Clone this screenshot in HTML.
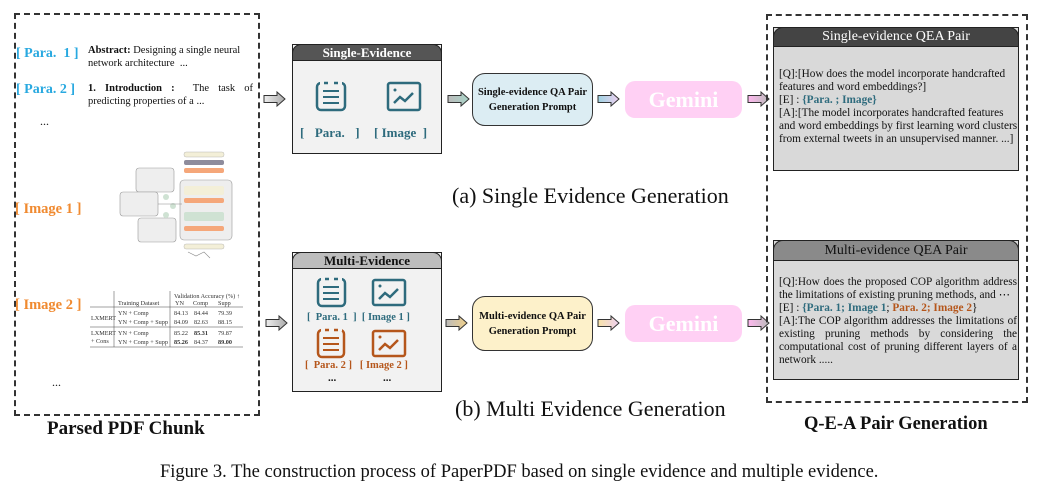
<!DOCTYPE html>
<html><head><meta charset="utf-8"><style>
*{margin:0;padding:0;box-sizing:border-box}
body{width:1041px;height:491px;background:#fff;position:relative;overflow:hidden;font-family:"Liberation Serif",serif;color:#111}
.a{position:absolute}
.dash{border:2px dashed #333}
.bl{color:#29a9e0;font-weight:bold}
.or{color:#f08a30;font-weight:bold}
.tl{color:#2e6b7d;font-weight:bold}
.br{color:#b5561b;font-weight:bold}
.hdr{position:absolute;left:-1px;right:-1px;top:-1px;border:1.5px solid #222;border-radius:9px 9px 0 0;text-align:center;font-weight:bold}
.box{border:1.5px solid #222;background:#f2f2f2}
.prompt{border:1.5px solid #333;border-radius:13px;font-weight:bold;font-size:10.5px;text-align:center;line-height:15px;display:flex;align-items:center;justify-content:center}
.gem{background:#ffd0f4;border-radius:10px;color:#fff;font-weight:bold;font-size:22px;text-align:center}
.qea{border:1.5px solid #222;background:#d9d9d9;font-size:11.3px;line-height:13px}
.qea p{margin:0}
</style></head><body>

<div class="a dash" style="left:14px;top:13px;width:246px;height:403px"></div>
<div class="a bl" style="left:16px;top:46px;font-size:14px">[ Para.&nbsp; 1 ]</div>
<div class="a" style="left:88px;top:44px;width:165px;font-size:10.5px;line-height:13px"><b>Abstract:</b> Designing a single neural network architecture&nbsp; ...</div>
<div class="a bl" style="left:16px;top:82px;font-size:14px">[ Para. 2 ]</div>
<div class="a" style="left:88px;top:82px;width:165px;font-size:10.5px;line-height:13px;text-align:justify"><b>1. Introduction :</b>&nbsp; The task of predicting properties of a ...</div>
<div class="a" style="left:40px;top:114px;font-size:12px">...</div>
<div class="a or" style="left:15px;top:201px;font-size:14.5px">[ Image 1 ]</div>
<div class="a or" style="left:15px;top:297px;font-size:14.5px">[ Image 2 ]</div>
<div class="a" style="left:52px;top:375px;font-size:12px">...</div>
<svg class="a" style="left:118px;top:146px" width="130" height="120">
<rect x="62" y="34" width="52" height="60" rx="4" fill="#eee" stroke="#999" stroke-width=".6"/>
<rect x="66" y="6" width="40" height="5" rx="2" fill="#f3efd8" stroke="#aaa" stroke-width=".4"/>
<rect x="66" y="14" width="40" height="5" rx="2" fill="#8e8c9c"/>
<rect x="66" y="22" width="40" height="5" rx="2" fill="#f5a77a"/>
<rect x="66" y="40" width="40" height="9" rx="2" fill="#f3efd8"/>
<rect x="66" y="52" width="40" height="5" rx="2" fill="#f5a77a"/>
<rect x="66" y="66" width="40" height="9" rx="2" fill="#cfe2d3"/>
<rect x="66" y="80" width="40" height="5" rx="2" fill="#f5a77a"/>
<rect x="66" y="98" width="40" height="5" rx="2" fill="#f3efd8" stroke="#aaa" stroke-width=".4"/>
<rect x="18" y="22" width="38" height="24" rx="3" fill="#eee" stroke="#999" stroke-width=".6"/>
<rect x="2" y="46" width="38" height="24" rx="3" fill="#eee" stroke="#999" stroke-width=".6"/>
<rect x="20" y="72" width="38" height="24" rx="3" fill="#eee" stroke="#999" stroke-width=".6"/>
<circle cx="48" cy="51" r="3" fill="#cfe2d3"/><circle cx="55" cy="60" r="3" fill="#cfe2d3"/><circle cx="48" cy="69" r="3" fill="#cfe2d3"/>
<path d="M40 58H64" stroke="#888" stroke-width=".5"/>
<path d="M70 106l8 4 8-4 6 6" stroke="#888" fill="none" stroke-width=".6"/>
</svg>
<svg class="a" style="left:90px;top:291px" width="155" height="60" font-family="Liberation Serif" font-size="6.2" fill="#333">
<line x1="24" y1="0" x2="24" y2="56" stroke="#444" stroke-width=".5"/>
<line x1="80" y1="0" x2="80" y2="56" stroke="#444" stroke-width=".5"/>
<line x1="0" y1="16" x2="153" y2="16" stroke="#444" stroke-width=".5"/>
<line x1="0" y1="36" x2="153" y2="36" stroke="#444" stroke-width=".5"/>
<line x1="0" y1="56" x2="153" y2="56" stroke="#444" stroke-width=".5"/>
<text x="84" y="7">Validation Accuracy (%) ↑</text>
<text x="28" y="14">Training Dataset</text><text x="85" y="14">YN</text><text x="103" y="14">Comp</text><text x="128" y="14">Supp</text>
<text x="1" y="29">LXMERT</text><text x="28" y="24">YN + Comp</text><text x="28" y="33">YN + Comp + Supp</text>
<text x="84" y="24">84.13</text><text x="104" y="24">84.44</text><text x="128" y="24">79.39</text>
<text x="84" y="33">84.09</text><text x="104" y="33">82.63</text><text x="128" y="33">88.15</text>
<text x="1" y="44">LXMERT</text><text x="1" y="52">+ Cons</text>
<text x="28" y="44">YN + Comp</text><text x="28" y="53">YN + Comp + Supp</text>
<text x="84" y="44">85.22</text><text x="104" y="44" font-weight="bold">85.31</text><text x="128" y="44">79.87</text>
<text x="84" y="53" font-weight="bold">85.26</text><text x="104" y="53">84.37</text><text x="128" y="53" font-weight="bold">89.00</text>
</svg>
<div class="a" style="left:47px;top:418px;font-size:19px;font-weight:bold">Parsed PDF Chunk</div>

<svg class="a" style="left:0;top:0" width="1041" height="491">
<defs>
<linearGradient id="g1"><stop offset="0" stop-color="#eee"/><stop offset="1" stop-color="#aaa"/></linearGradient>
<linearGradient id="g2"><stop offset="0" stop-color="#bbb"/><stop offset="1" stop-color="#a8d4c8"/></linearGradient>
<linearGradient id="g3"><stop offset="0" stop-color="#9ed3e2"/><stop offset="1" stop-color="#eed0f0"/></linearGradient>
<linearGradient id="g4"><stop offset="0" stop-color="#ffb8ef"/><stop offset="1" stop-color="#bbb"/></linearGradient>
<linearGradient id="g5"><stop offset="0" stop-color="#bbb"/><stop offset="1" stop-color="#f0d08a"/></linearGradient>
<linearGradient id="g6"><stop offset="0" stop-color="#f7e2a8"/><stop offset="1" stop-color="#eed0f0"/></linearGradient>
<g id="ar"><path d="M0 -3.5H13V-7L21 0 13 7V3.5H0Z" stroke="#333" stroke-width="1"/></g>
</defs>
<use href="#ar" x="264" y="99" fill="url(#g1)"/>
<use href="#ar" x="448" y="99" fill="url(#g2)"/>
<use href="#ar" x="598" y="99" fill="url(#g3)"/>
<use href="#ar" x="748" y="99" fill="url(#g4)"/>
<use href="#ar" x="266" y="323" fill="url(#g1)"/>
<use href="#ar" x="446" y="323" fill="url(#g5)"/>
<use href="#ar" x="598" y="323" fill="url(#g6)"/>
<use href="#ar" x="748" y="323" fill="url(#g4)"/>
</svg>

<div class="a box" style="left:292px;top:44px;width:150px;height:110px">
<div class="hdr" style="background:#555;color:#fff;height:17px;font-size:13px;line-height:15px">Single-Evidence</div></div>
<svg class="a" style="left:315px;top:81px" width="110" height="34" fill="none" stroke="#2e6b7d" stroke-width="2.5">
<rect x="2" y="2" width="28" height="27" rx="4"/><path d="M5 2h4M13 2h6M23 2h4" stroke="#f2f2f2" stroke-width="3"/>
<path d="M8 10h16M8 16h16M8 22h16" stroke-width="2"/>
<rect x="73" y="2" width="32" height="27" rx="2"/><path d="M79 22l6-6 5 4 8-8" stroke-width="2.5"/><circle cx="80" cy="9" r="1.5" fill="#2e6b7d" stroke="none"/>
</svg>
<div class="a tl" style="left:300px;top:125px;font-size:13px;word-spacing:2px">[&nbsp; Para.&nbsp; ]</div>
<div class="a tl" style="left:374px;top:125px;font-size:13px">[ Image&nbsp; ]</div>

<div class="a prompt" style="left:472px;top:73px;width:121px;height:53px;background:#dcedf3">Single-evidence QA Pair<br>Generation Prompt</div>
<div class="a gem" style="left:625px;top:81px;width:117px;height:37px;line-height:37px">Gemini</div>
<div class="a" style="left:452px;top:183px;font-size:22px">(a) Single Evidence Generation</div>

<div class="a box" style="left:292px;top:252px;width:150px;height:140px">
<div class="hdr" style="background:#bdbdbd;color:#111;height:17px;font-size:13px;line-height:15px">Multi-Evidence</div></div>
<svg class="a" style="left:315px;top:277px" width="110" height="82" fill="none" stroke-width="2.5">
<g stroke="#2e6b7d"><rect x="3" y="2" width="27" height="27" rx="4"/><path d="M6 2h4M14 2h5M23 2h4" stroke="#f2f2f2" stroke-width="3"/>
<path d="M8 10h16M8 16h16M8 22h16" stroke-width="2"/>
<rect x="58" y="3" width="32" height="25" rx="2"/><path d="M64 22l6-6 5 4 8-8"/><circle cx="65" cy="9" r="1.5" fill="#2e6b7d" stroke="none"/></g>
<g stroke="#b5561b"><rect x="3" y="53" width="26" height="27" rx="4"/><path d="M6 53h4M14 53h5M23 53h4" stroke="#f2f2f2" stroke-width="3"/>
<path d="M8 61h16M8 67h16M8 73h16" stroke-width="2"/>
<rect x="58" y="54" width="32" height="25" rx="2"/><path d="M64 73l6-6 5 4 8-8"/><circle cx="65" cy="60" r="1.5" fill="#b5561b" stroke="none"/></g>
</svg>
<div class="a tl" style="left:307px;top:312px;font-size:10.5px">[&nbsp; Para. 1&nbsp; ]&nbsp; [ Image 1 ]</div>
<div class="a br" style="left:305px;top:360px;font-size:10.5px">[&nbsp; Para. 2 ]&nbsp;&nbsp; [ Image 2 ]</div>
<div class="a" style="left:328px;top:372px;font-size:11px;font-weight:bold">...</div>
<div class="a" style="left:383px;top:372px;font-size:11px;font-weight:bold">...</div>

<div class="a prompt" style="left:472px;top:296px;width:121px;height:55px;background:#fdf1ca">Multi-evidence QA Pair<br>Generation Prompt</div>
<div class="a gem" style="left:625px;top:305px;width:117px;height:37px;line-height:37px">Gemini</div>
<div class="a" style="left:455px;top:396px;font-size:22px">(b) Multi Evidence Generation</div>

<div class="a dash" style="left:766px;top:14px;width:262px;height:389px"></div>
<div class="a qea" style="left:773px;top:27px;width:246px;height:144px">
<div class="hdr" style="background:#444;color:#fff;height:20px;font-size:14px;line-height:18px;font-weight:normal;border-radius:10px 10px 0 0">Single-evidence QEA Pair</div>
<div style="position:absolute;left:5px;top:40px;width:240px">
<p>[Q]:[How does the model incorporate handcrafted features and word embeddings?]</p>
<p>[E] : <span class="tl">{Para. ; Image}</span></p>
<p>[A]:[The model incorporates handcrafted features and word embeddings by first learning word clusters from external tweets in an unsupervised manner. ...]</p>
</div></div>
<div class="a qea" style="left:773px;top:240px;width:246px;height:140px">
<div class="hdr" style="background:#8a8a8a;color:#111;height:21px;font-size:14px;line-height:19px;font-weight:normal;border-radius:10px 10px 0 0">Multi-evidence QEA Pair</div>
<div style="position:absolute;left:5px;top:35px;width:238px;text-align:justify">
<p>[Q]:How does the proposed COP algorithm address the limitations of existing pruning methods, and ⋯</p>
<p>[E] : <span class="tl">{Para. 1; Image 1</span>; <span class="br">Para. 2; Image 2</span>}</p>
<p>[A]:The COP algorithm addresses the limitations of existing pruning methods by considering the computational cost of pruning different layers of a network .....</p>
</div></div>
<div class="a" style="left:804px;top:414px;font-size:18.5px;font-weight:bold">Q-E-A Pair Generation</div>

<div class="a" style="left:160px;top:462px;font-size:18.5px">Figure 3. The construction process of PaperPDF based on single evidence and multiple evidence.</div>
</body></html>
